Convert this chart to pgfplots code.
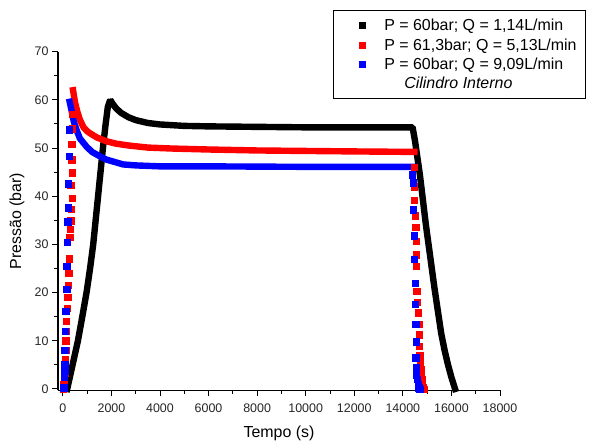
\documentclass[border=0pt]{standalone}
\usepackage{fontspec}
\setmainfont{Liberation Sans}
\usepackage{pgfplots}
\pgfplotsset{compat=1.18}

% thick band for densely sampled stretches, square marks for sparse ones
\pgfplotsset{
  band/.style={mark=none, line width=6.4bp, line cap=rect, line join=bevel},
  dots/.style={only marks, mark=square*, mark size=3.2bp},
}

\begin{document}
\begin{tikzpicture}
\useasboundingbox (0,0) rectangle (590bp,443bp);
\begin{axis}[
  at={(58bp,52.6bp)}, anchor=south west,
  scale only axis, width=442bp, height=338.7bp,
  xmin=-200, xmax=18000, ymin=-0.3, ymax=70,
  clip=false,
  axis lines*=left,
  axis line style={line width=1.2bp, black},
  xtick={0,2000,...,18000}, ytick={0,10,...,70},
  minor x tick num=1, minor y tick num=1,
  tick align=outside, major tick length=6bp, minor tick length=3.5bp,
  every tick/.style={line width=1bp, black},
  scaled x ticks=false,
  /pgf/number format/assume math mode=true,
  /pgf/number format/1000 sep={},
  tick label style={font=\fontsize{12.5}{15}\selectfont, text=black!85},
  x tick label style={yshift=-4bp},
  xlabel={Tempo (s)}, ylabel={Pressão (bar)},
  label style={font=\fontsize{16}{19}\selectfont},
  xlabel style={at={(rel axis cs:0.5,-0.1258)}, anchor=center},
  ylabel style={at={(rel axis cs:-0.0928,0.5)}, anchor=center, rotate=0},
  legend style={at={(0.622,1.122)}, anchor=north west,
    draw=black, line width=0.8bp, inner xsep=9bp, inner ysep=8bp,
    font=\fontsize{16}{19}\selectfont,
    nodes={inner sep=0pt, text height=12bp, text depth=2bp},
    row sep=5.3bp, column sep=0bp},
  legend cell align=left,
  legend image code/.code={%
    \path[draw=none, fill=none] (0bp,-4bp) rectangle (42bp,4bp);
    \draw[#1] plot coordinates {(20bp,0bp)};},
]

% ---- Q = 1,14 L/min (black) ----
\addplot[black, band, forget plot] coordinates {
  (180,0) (400,5) (620,10) (800,15) (975,20) (1120,25) (1250,30)
  (1350,35) (1450,40) (1550,45) (1650,50) (1750,54.5) (1850,58.5) (1950,60)
  (2050,59.2) (2200,58.2) (2400,57.3) (2700,56.4) (3000,55.8) (3500,55.2)
  (4000,54.9) (5000,54.6) (6000,54.5) (8000,54.4) (10000,54.3) (12000,54.3)
  (14400,54.3)
  (14500,51.5) (14700,44.5) (14950,34) (15300,21) (15580,11.5) (15720,8)
  (15860,5) (16000,2.4) (16150,0)
};

% ---- Q = 5,13 L/min (red) ----
\addplot[red, dots, forget plot] coordinates {
  (20,0) (40,1) (60,2) (75,3.3) (82,4.5) (95,6.2) (110,8) (123,10)
  (135,12) (145,14.1) (170,16.8) (195,19) (218,21.5) (240,24) (260,27)
  (275,31.5) (300,33.2) (330,34.9) (340,37.3) (380,39.6) (330,42.3)
  (380,44.9) (360,47.6) (358,50.8) (385,54) (400,57)
};
\addplot[red, band, forget plot] coordinates {
  (420,62) (500,59.5) (600,57.5) (700,55.9) (850,54.3) (1000,53.5)
  (1110,53.1) (1400,52.2) (1800,51.4) (2200,50.9) (2760,50.5) (3500,50.1)
  (4500,49.9) (6000,49.7) (8000,49.5) (10000,49.4) (12000,49.3) (14480,49.2)
};
\addplot[red, dots, forget plot] coordinates {
  (14470,46) (14457,42) (14470,39.2) (14514,36) (14527,33.6) (14539,30.7)
  (14545,27.9) (14550,25.5) (14568,20.3) (14597,18) (14621,15.8)
  (14650,13.4) (14663,11.3) (14679,8.9) (14700,7) (14720,5.5) (14740,4)
  (14760,3) (14780,2) (14800,1) (14830,0.3) (14850,0)
};

% ---- Q = 9,09 L/min (blue) ----
\addplot[blue, dots, forget plot] coordinates {
  (41,0.3) (53,2.4) (70,3.8) (82,5.1) (82,8.1) (95,12) (123,16.1)
  (152,20.7) (152,25.5) (177,30.5) (193,34.7) (218,37.6) (230,42.6)
  (259,48.3) (259,53.8)
};
\addplot[blue, band, forget plot] coordinates {
  (280,59.6) (350,58) (450,55.5) (560,53.8) (700,52) (975,50.3) (1200,49.2)
  (1520,48.3) (1800,47.6) (2480,46.6) (3000,46.4) (4000,46.2) (6000,46.2)
  (10000,46.1) (14480,46.1)
};
\addplot[blue, dots, forget plot] coordinates {
  (14390,44.5) (14416,42.8) (14432,37.2) (14457,31.8) (14473,26.9)
  (14498,22) (14514,17.6) (14527,13.4) (14539,9.8) (14530,6.5) (14540,4.5)
  (14560,3) (14590,2) (14620,1) (14660,0.3) (14700,0)
};

\addlegendimage{black, only marks, mark=square*, mark size=3bp}
\addlegendentry{P = 60bar; Q = 1,14L/min}
\addlegendimage{red, only marks, mark=square*, mark size=3bp}
\addlegendentry{P = 61,3bar; Q = 5,13L/min}
\addlegendimage{blue, only marks, mark=square*, mark size=3bp}
\addlegendentry{P = 60bar; Q = 9,09L/min}
\addlegendimage{empty legend}
\addlegendentry{\hspace*{20bp}\itshape Cilindro Interno}
\end{axis}
\end{tikzpicture}
\end{document}
